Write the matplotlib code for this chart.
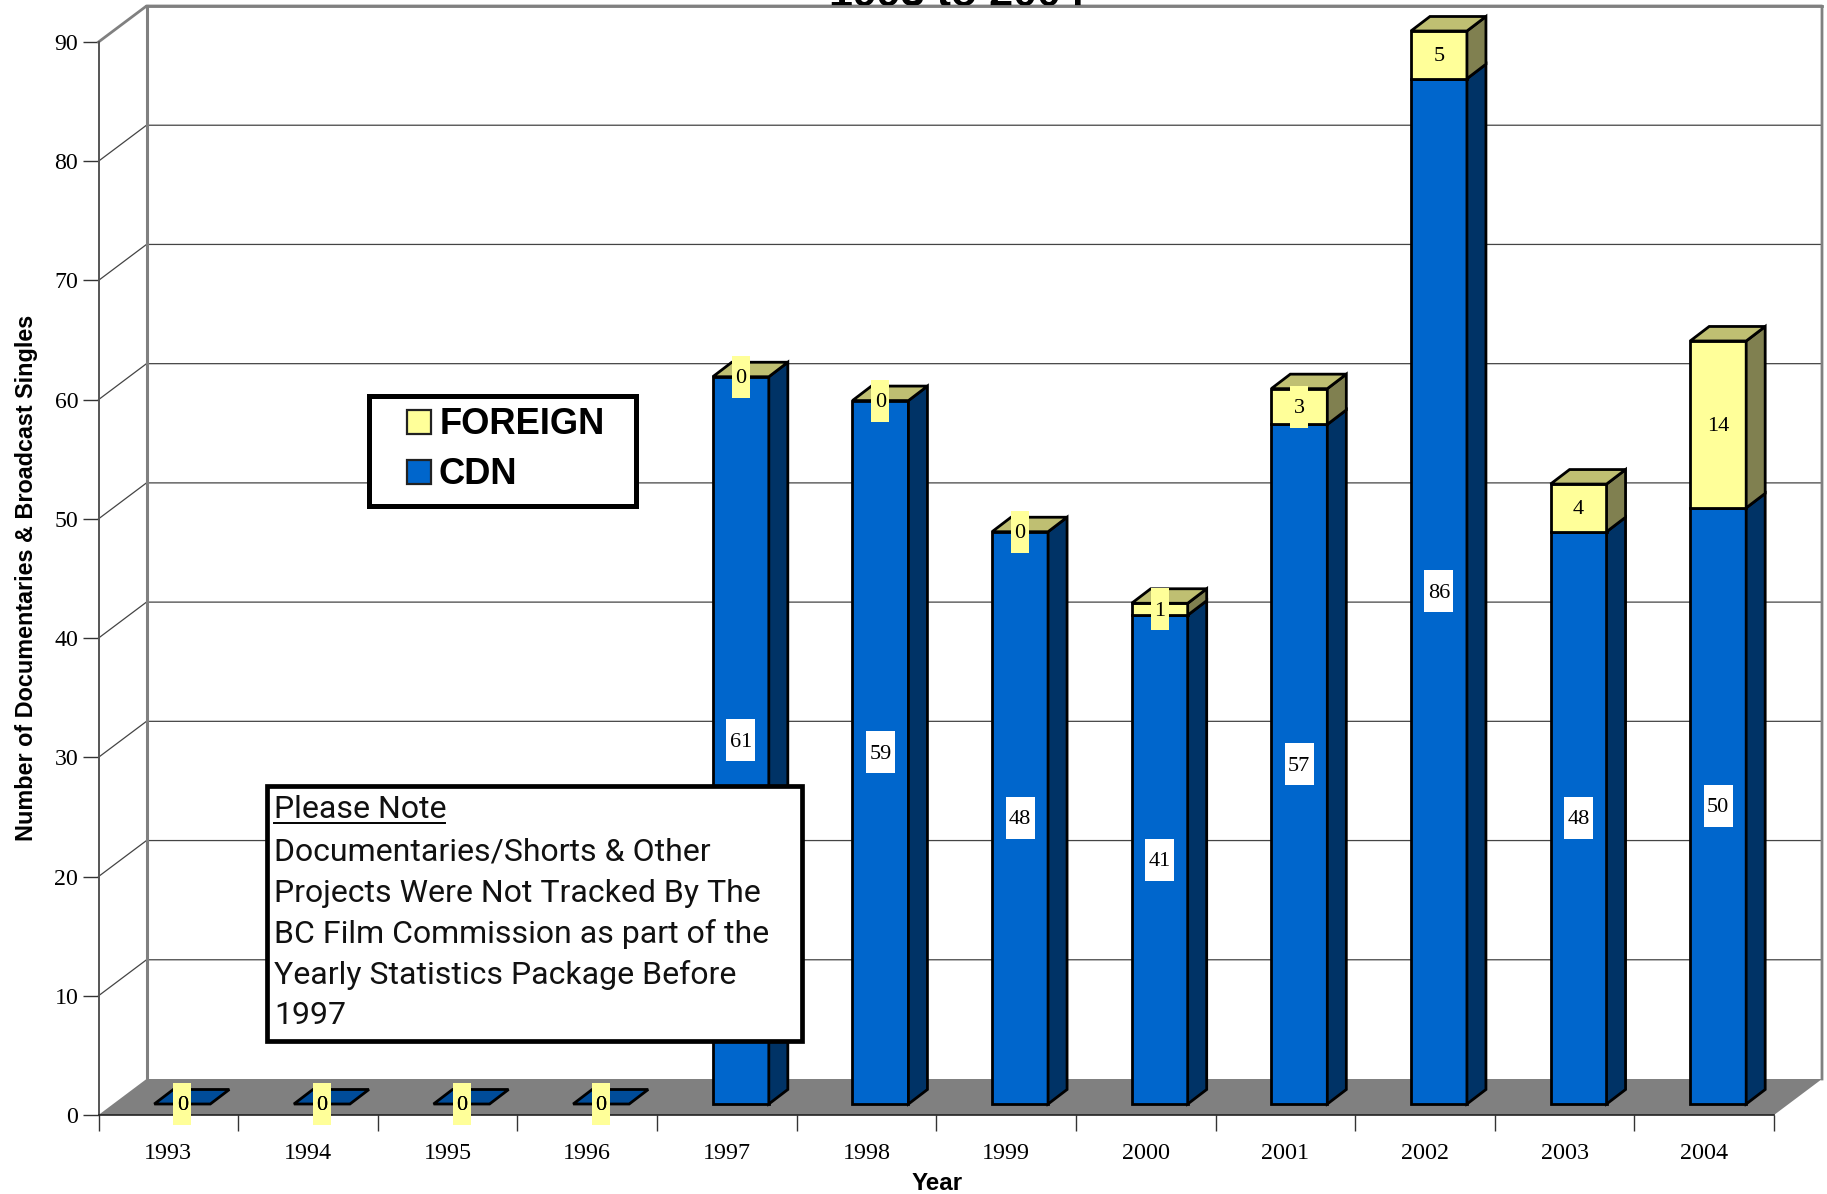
"""Documentaries and broadcast singles per year, drawn as fake 3D stacked bars."""

import matplotlib
matplotlib.use("Agg")
import matplotlib.pyplot as plt
from matplotlib.patches import Rectangle

YEARS = ["1993", "1994", "1995", "1996", "1997", "1998",
         "1999", "2000", "2001", "2002", "2003", "2004"]
CDN = [0, 0, 0, 0, 61, 59, 48, 41, 57, 86, 48, 50]
FOREIGN = [0, 0, 0, 0, 0, 0, 0, 1, 3, 5, 4, 14]
Y_TICKS = [0, 10, 20, 30, 40, 50, 60, 70, 80, 90]
NOTE_LINES = [
    "Documentaries/Shorts & Other",
    "Projects Were Not Tracked By The",
    "BC Film Commission as part of the",
    "Yearly Statistics Package Before",
    "1997",
]

W, H = 1827, 1194
LEFT, RIGHT, TOP, BOTTOM = 98.5, 1774, 42, 1115
Y_MAX = 90

# pixel sizes expressed in data units
PX_X = 12 / (RIGHT - LEFT)
PX_Y = Y_MAX / (BOTTOM - TOP)
WALL_DX, WALL_DY = 48 * PX_X, 36 * PX_Y
BAR_DX, BAR_DY = 19 * PX_X, 14.5 * PX_Y
SHIFT_X, SHIFT_Y = 14 * PX_X, 11 * PX_Y
BAR_W = 56 * PX_X

BLUE, BLUE_SIDE, BLUE_TOP = "#0066cc", "#003366", "#004c99"
YELLOW, YELLOW_SIDE, YELLOW_TOP = "#ffff99", "#808050", "#bfbf72"
GREY = "#808080"
SERIF = "Liberation Serif"
SANS = "Liberation Sans"

fig = plt.figure(figsize=(W / 100, H / 100), dpi=100)
ax = fig.add_axes([LEFT / W, 1 - BOTTOM / H, (RIGHT - LEFT) / W, (BOTTOM - TOP) / H])
ax.set_xlim(0, 12)
ax.set_ylim(0, Y_MAX)
for spine in ax.spines.values():
    spine.set_visible(False)
ax.patch.set_visible(False)

# walls, floor and grid
ax.fill([0, 12, 12 + WALL_DX, WALL_DX], [0, 0, WALL_DY, WALL_DY],
        color=GREY, lw=0, zorder=1, clip_on=False)
for v in Y_TICKS[1:-1]:
    ax.plot([0, WALL_DX, 12 + WALL_DX], [v, v + WALL_DY, v + WALL_DY],
            color="#444444", lw=0.9, zorder=1, clip_on=False)
ax.plot([0, WALL_DX, 12 + WALL_DX, 12 + WALL_DX],
        [Y_MAX, Y_MAX + WALL_DY, Y_MAX + WALL_DY, WALL_DY],
        color=GREY, lw=2, zorder=2, clip_on=False)
ax.plot([WALL_DX, WALL_DX], [WALL_DY, Y_MAX + WALL_DY], color=GREY, lw=2.2, zorder=2, clip_on=False)
ax.plot([0, 0], [0, Y_MAX], color="#555555", lw=1.4, zorder=3, clip_on=False)
ax.plot([0, 12], [0, 0], color="#222222", lw=1.2, zorder=3, clip_on=False)

edge = dict(edgecolor="black", linewidth=2, joinstyle="miter", clip_on=False)


def draw_bar(i, cdn, foreign):
    x0 = i + 0.5 + SHIFT_X - BAR_W / 2
    x1 = x0 + BAR_W
    y0 = SHIFT_Y
    y1 = y0 + cdn
    # the axis stops at 90, so the 2002 stack gets cut off there
    y2 = min(y1 + foreign, y0 + Y_MAX)
    z = 5 + i

    if cdn > 0:
        ax.bar(x0, cdn, width=BAR_W, bottom=y0, align="edge", color=BLUE, zorder=z, **edge)
        ax.fill([x1, x1 + BAR_DX, x1 + BAR_DX, x1], [y0, y0 + BAR_DY, y1 + BAR_DY, y1],
                facecolor=BLUE_SIDE, zorder=z, **edge)
    if y2 > y1:
        ax.bar(x0, y2 - y1, width=BAR_W, bottom=y1, align="edge", color=YELLOW, zorder=z, **edge)
        ax.fill([x1, x1 + BAR_DX, x1 + BAR_DX, x1], [y1, y1 + BAR_DY, y2 + BAR_DY, y2],
                facecolor=YELLOW_SIDE, zorder=z, **edge)
    top_color = BLUE_TOP if cdn + foreign == 0 else YELLOW_TOP
    ax.fill([x0, x1, x1 + BAR_DX, x0 + BAR_DX], [y2, y2, y2 + BAR_DY, y2 + BAR_DY],
            facecolor=top_color, zorder=z, **edge)
    return (x0 + x1) / 2, y0, y1, y2


def value_label(x, y, value, color):
    bw = (18 if value < 10 else 29) * PX_X
    bh = 42 * PX_Y
    ax.add_patch(Rectangle((x - bw / 2, y - bh / 2), bw, bh, facecolor=color,
                           edgecolor="none", zorder=30, clip_on=False))
    ax.text(x, y + 0.5 * PX_Y, str(value), ha="center", va="center_baseline", family=SERIF,
            fontsize=16, color="black", zorder=31)


for i, (c, f) in enumerate(zip(CDN, FOREIGN)):
    xc, y0, y1, y2 = draw_bar(i, c, f)
    value_label(xc, (y0 + y1) / 2, c, "white")
    value_label(xc, (y1 + y2) / 2, f, YELLOW)

# axes ticks and labels
ax.set_yticks(Y_TICKS)
ax.set_xticks(range(13))
ax.set_xticklabels([])
ax.set_xticks([i + 0.5 for i in range(12)], minor=True)
ax.set_xticklabels(YEARS, minor=True, family=SERIF, fontsize=17.4)
ax.tick_params(axis="x", which="major", length=11.5, width=1, color="#333333", zorder=3)
ax.tick_params(axis="x", which="minor", length=0, pad=20.5)
ax.tick_params(axis="y", length=11.5, width=1, color="#333333", pad=3)
for t in ax.get_yticklabels():
    t.set_family(SERIF)
    t.set_fontsize(17.2)

# overlay in reference pixels for the title, legend and note box
over = fig.add_axes([0, 0, 1, 1], zorder=5)
over.set_xlim(0, W)
over.set_ylim(H, 0)
over.axis("off")

over.text(957, 6, "1993 to 2004", ha="center", va="baseline", family=SANS,
          weight="bold", fontsize=31, clip_on=False, zorder=1)
over.plot([146, 1822], [6, 6], color=GREY, lw=2, zorder=2)
over.text(26.5, 578, "Number of Documentaries & Broadcast Singles", rotation=90,
          ha="center", va="center", family=SANS, weight="bold", fontsize=16.8)
over.text(937, 1183, "Year", ha="center", va="center", family=SANS, weight="bold", fontsize=17.4)

# legend box
over.add_patch(Rectangle((369, 396), 267, 110, facecolor="white", edgecolor="black", lw=3.6, joinstyle="miter"))
over.add_patch(Rectangle((406.5, 410), 24, 24, facecolor=YELLOW, edgecolor="#222222", lw=1.6))
over.add_patch(Rectangle((406.5, 459.5), 24, 24, facecolor=BLUE, edgecolor="#222222", lw=1.6))
over.text(439.5, 424, "FOREIGN", va="center", family=SANS, weight="bold", fontsize=26.2)
over.text(438.5, 474, "CDN", va="center", family=SANS, weight="bold", fontsize=26.2)

# note box
over.add_patch(Rectangle((266.5, 786.3), 535, 254.4, facecolor="white", edgecolor="black", lw=3.4, joinstyle="miter"))
over.text(274, 810, "Please Note", va="center", family="Roboto", fontsize=23, color="#111111")
over.plot([274, 445], [823, 823], color="black", lw=1.4)
for k, line in enumerate(NOTE_LINES):
    over.text(274, 852 + k * 41, line, va="center", family="Roboto", fontsize=23, color="#111111")

fig.savefig("out.png", dpi=100)
